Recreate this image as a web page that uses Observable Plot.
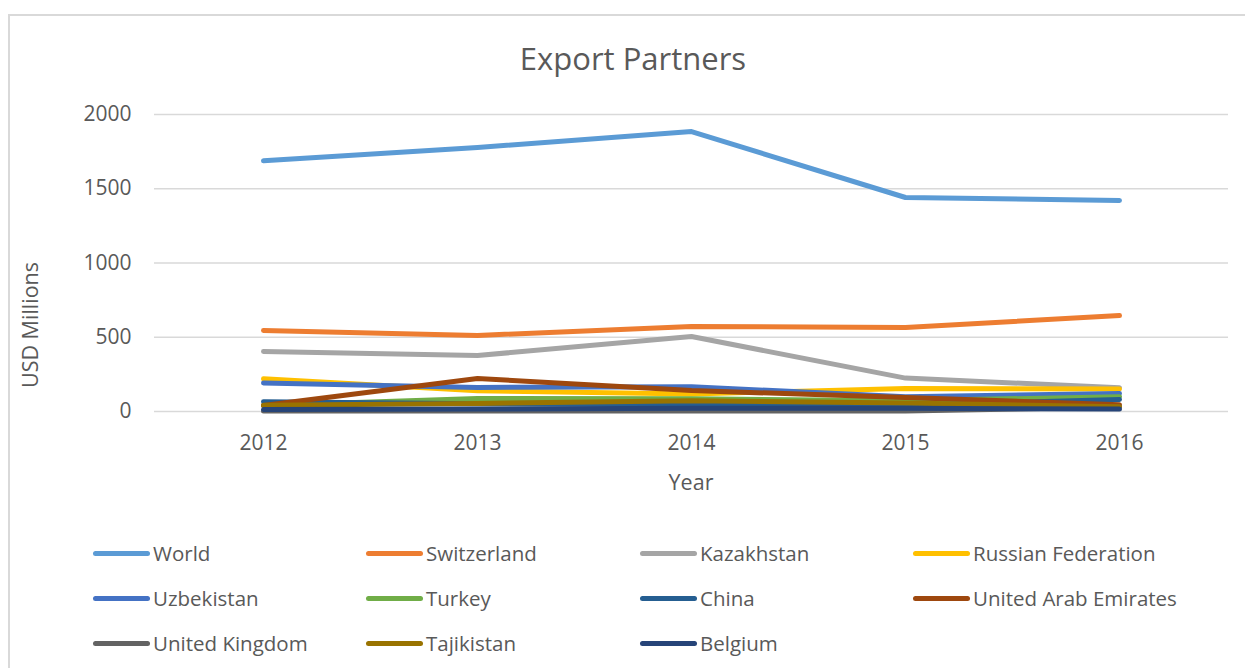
<!DOCTYPE html>
<html>
<head>
<meta charset="utf-8">
<script src="https://cdn.jsdelivr.net/npm/d3@7"></script>
<script src="https://cdn.jsdelivr.net/npm/@observablehq/plot@0.6"></script>
<style>
  html, body { margin: 0; padding: 0; background: #fff; }
  body { width: 1245px; height: 668px; position: relative; overflow: hidden; font-family: "Open Sans", sans-serif; color: #595959; }
  #frame { position: absolute; left: 8px; top: 14px; width: 1300px; height: 700px; border: 2px solid #d9d9d9; box-sizing: border-box; }
  #title { position: absolute; left: 0; width: 1266px; top: 36px; text-align: center; font-size: 31px; line-height: 44px; }
  #ytitle { position: absolute; left: 30px; top: 325px; font-size: 21.5px; line-height: 28px; white-space: nowrap; transform: translate(-50%, -50%) rotate(-90deg); }
  #xtitle { position: absolute; left: 691px; top: 482px; font-size: 21.5px; line-height: 28px; transform: translate(-50%, -50%); }
  #chart { position: absolute; left: 0; top: 90px; }
  .item { position: absolute; height: 30px; display: flex; align-items: center; font-size: 20.5px; white-space: nowrap; }
  .sw { width: 57px; height: 5px; border-radius: 3px; margin-right: 3px; }
</style>
</head>
<body>
<div id="frame"></div>
<div id="title">Export Partners</div>
<div id="ytitle">USD Millions</div>
<div id="xtitle">Year</div>
<div id="chart"></div>
<div id="legend"></div>
<script>
const years = ["2012", "2013", "2014", "2015", "2016"];
const seriesNames = ["World", "Switzerland", "Kazakhstan", "Russian Federation", "Uzbekistan", "Turkey", "China", "United Arab Emirates", "United Kingdom", "Tajikistan", "Belgium"];
const seriesColors = ["#5B9BD5", "#ED7D31", "#A5A5A5", "#FFC000", "#4472C4", "#70AD47", "#255E91", "#9E480E", "#636363", "#997300", "#264478"];
const world       = [1688, 1778, 1885, 1441, 1421];
const switzerland = [545, 512, 572, 566, 646];
const kazakhstan  = [404, 377, 505, 225, 160];
const russia      = [220, 140, 118, 155, 152];
const uzbekistan  = [192, 162, 166, 100, 121];
const turkey      = [40, 88, 86, 72, 100];
const china       = [65, 52, 45, 42, 81];
const uae         = [40, 222, 141, 94, 45];
const uk          = [3, 3, 4, 3, 30];
const tajikistan  = [42, 54, 72, 58, 32];
const belgium     = [13, 16, 22, 22, 16];
const yTicks = [0, 500, 1000, 1500, 2000];

const valueSets = [world, switzerland, kazakhstan, russia, uzbekistan, turkey, china, uae, uk, tajikistan, belgium];
const rows = [];
seriesNames.forEach((s, i) => valueSets[i].forEach((v, j) => rows.push({series: s, year: years[j], value: v})));

const plot = Plot.plot({
  width: 1245,
  height: 410,
  marginTop: 24,
  marginBottom: 89,
  marginLeft: 154,
  marginRight: 17,
  style: {fontFamily: "Open Sans, sans-serif", fontSize: "21px", color: "#595959", background: "transparent"},
  x: {type: "point", domain: years, padding: 0.5, align: 0.5, label: null},
  y: {domain: [0, 2000], label: null},
  color: {domain: seriesNames, range: seriesColors},
  marks: [
    Plot.ruleY(yTicks, {stroke: "#d9d9d9", strokeWidth: 1.6}),
    Plot.axisY({ticks: yTicks, tickFormat: d3.format("d"), tickSize: 0, tickPadding: 23, label: null, fill: "#595959"}),
    Plot.axisX({tickSize: 0, tickPadding: 24, label: null, fill: "#595959"}),
    Plot.line(rows, {x: "year", y: "value", z: "series", stroke: "series", strokeWidth: 5, strokeLinecap: "round", strokeLinejoin: "round"})
  ]
});
document.getElementById("chart").appendChild(plot);

const legend = document.getElementById("legend");
const colX = [93, 366, 640, 913];
const rowY = [553, 598, 643];
seriesNames.forEach((s, i) => {
  const d = document.createElement("div");
  d.className = "item";
  d.style.left = colX[i % 4] + "px";
  d.style.top = (rowY[Math.floor(i / 4)] - 15) + "px";
  const sw = document.createElement("div");
  sw.className = "sw";
  sw.style.background = seriesColors[i];
  const t = document.createElement("span");
  t.textContent = s;
  d.appendChild(sw);
  d.appendChild(t);
  legend.appendChild(d);
});
</script>
</body>
</html>
